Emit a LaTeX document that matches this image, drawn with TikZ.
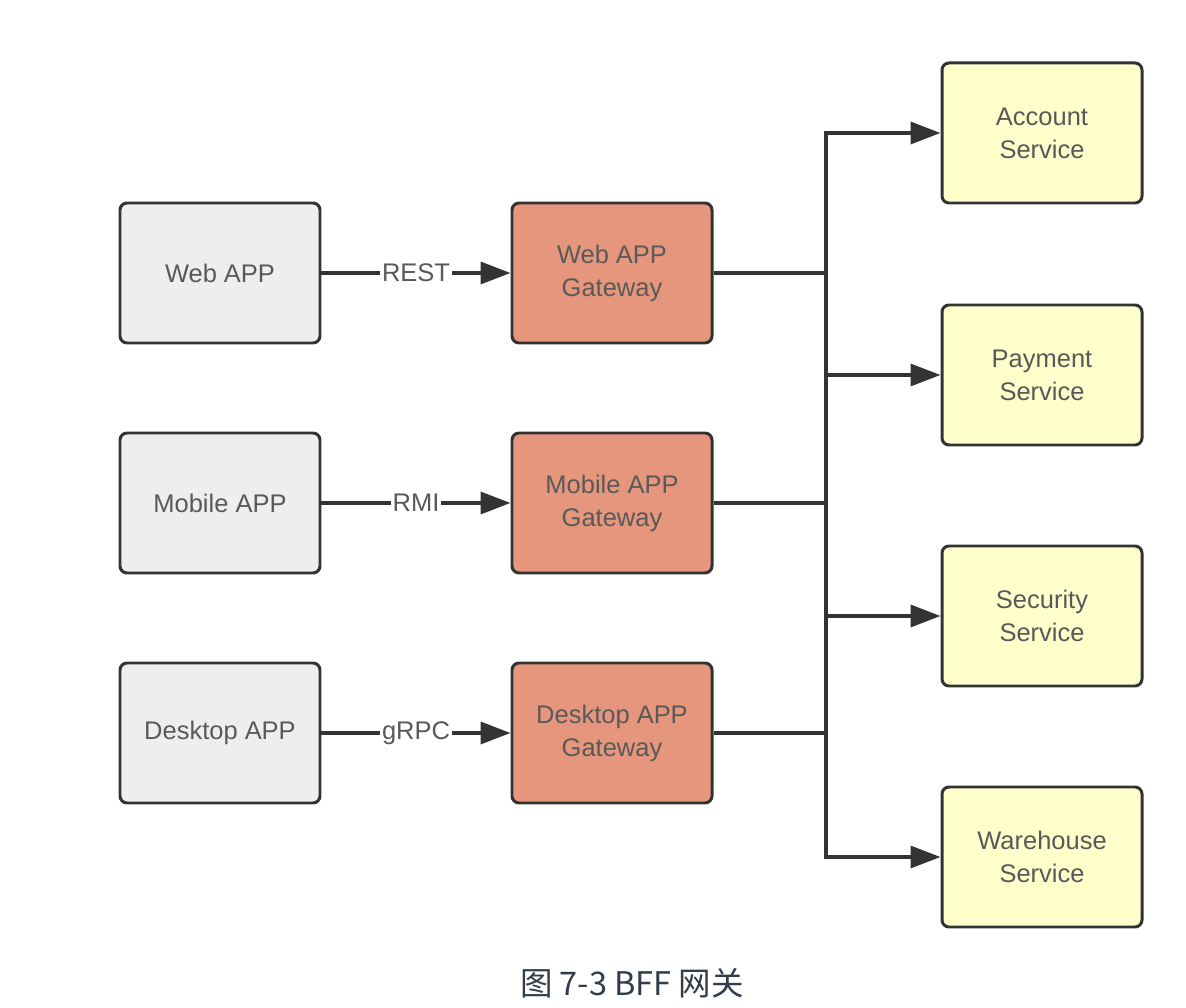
\documentclass[tikz,border=0pt]{standalone}
\usepackage{fontspec}
\setmainfont{Liberation Sans}
\newfontfamily\cjkfont{Noto Sans CJK SC}
\usetikzlibrary{arrows.meta,positioning}
\definecolor{appfill}{HTML}{EEEEEE}
\definecolor{gwfill}{HTML}{E6967D}
\definecolor{svcfill}{HTML}{FFFFCC}
\definecolor{edge}{HTML}{333333}
\definecolor{txt}{HTML}{595959}
\definecolor{captxt}{HTML}{333D4A}
\begin{document}
\begin{tikzpicture}[
    box/.style={draw=edge, line width=1.7pt, rounded corners=0.14cm, minimum width=4cm, minimum height=2.8cm,
      align=center, text=txt, font=\fontsize{14.5}{18.7}\selectfont},
    app/.style={box, fill=appfill},
    gw/.style={box, fill=gwfill},
    svc/.style={box, fill=svcfill},
    conn/.style={draw=edge, line width=2pt},
    arr/.style={conn, -{Triangle[length=0.6cm, width=0.44cm]}},
    lbl/.style={fill=white, inner sep=1pt, text=txt, font=\fontsize{14.5}{16}\selectfont}
  ]

      \useasboundingbox (0, 0) rectangle (23.72, -20.16);

      \node[app] (web) at (4.4, -5.46) {Web APP};
      \node[app] (mobile) at (4.4, -10.06) {Mobile APP};
      \node[app] (desktop) at (4.4, -14.66) {Desktop APP};

      \node[gw] (webgw) at (12.24, -5.46) {Web APP\\Gateway};
      \node[gw] (mobilegw) at (12.24, -10.06) {Mobile APP\\Gateway};
      \node[gw] (desktopgw) at (12.24, -14.66) {Desktop APP\\Gateway};

      \node[svc] (account) at (20.84, -2.66) {Account\\Service};
      \node[svc] (payment) at (20.84, -7.5) {Payment\\Service};
      \node[svc] (security) at (20.84, -12.32) {Security\\Service};
      \node[svc] (warehouse) at (20.84, -17.14) {Warehouse\\Service};

      \coordinate (trunk) at (16.52, 0);

      \draw[arr] (web) -- node[lbl] {REST} (webgw);
      \draw[arr] (mobile) -- node[lbl] {RMI} (mobilegw);
      \draw[arr] (desktop) -- node[lbl] {gRPC} (desktopgw);

      \draw[conn] (webgw.east) -- (webgw.east -| trunk);
      \draw[conn] (mobilegw.east) -- (mobilegw.east -| trunk);
      \draw[conn] (desktopgw.east) -- (desktopgw.east -| trunk);

      \draw[arr] (trunk |- payment.west) -- (trunk |- account.west) -- (account.west);
      \draw[arr] (trunk |- payment.west) -- (payment.west);
      \draw[arr] (trunk |- security.west) -- (security.west);
      \draw[arr] (trunk |- payment.west) -- (trunk |- warehouse.west) -- (warehouse.west);

      \node[text=captxt, font=\cjkfont\fontsize{18.5}{22}\selectfont] (caption) at (12.64, -19.66) {图 7-3 BFF 网关};

    \end{tikzpicture}
\end{document}
